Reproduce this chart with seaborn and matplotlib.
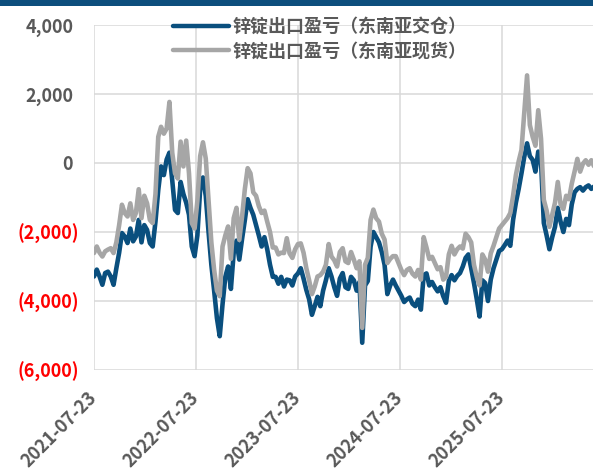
import pandas as pd
import matplotlib
matplotlib.use("Agg")
import matplotlib.pyplot as plt
from matplotlib.lines import Line2D
from matplotlib.patches import Rectangle
from matplotlib.transforms import ScaledTranslation
import seaborn as sns

# Zinc ingot export profit/loss, sampled every 10 days from 2021-07-23 (yuan/ton)
start_date = "2021-07-23"
step_days = 10

jiaocang = [
    -3290, -3090, -3290, -3530, -3190, -3150, -3290, -3530, -3050, -2600,
    -2030, -2130, -2320, -1900, -2270, -2130, -1650, -2300, -1800, -1940,
    -2320, -2420, -1700, -780, -100, -350, 100, 300, -500, -1360,
    -1450, -550, -900, -1150, -1500, -2420, -2700, -2100, -750, -420,
    -950, -2000, -2950, -3700, -4500, -5020, -4100, -3300, -3000, -3650,
    -2600, -2250, -2800, -2200, -1650, -1050, -1300, -1500, -1800, -2100,
    -2420, -2150, -2500, -2950, -3300, -3300, -3500, -3300, -3580, -3380,
    -3400, -3550, -3290, -3200, -3050, -3350, -3680, -3950, -4400, -4150,
    -3880, -4150, -3700, -3400, -3050, -3290, -3600, -3850, -3350, -3190,
    -3600, -3650, -3300, -3400, -3700, -3450, -5210, -3550, -3420, -2420,
    -2000, -2150, -2300, -2580, -2950, -3800, -3550, -3380, -3550, -3700,
    -3850, -4030, -3950, -3900, -4080, -4150, -3960, -4250, -3250, -3200,
    -3550, -3450, -3600, -3720, -3600, -3860, -4050, -3420, -3250, -3400,
    -3270, -3190, -3000, -2750, -2650, -3050, -3480, -3950, -4450, -3400,
    -3480, -4000, -3380, -3050, -2800, -2550, -2500, -2380, -2250, -2400,
    -1650, -1150, -750, -300, 180, 570, 200, 90, -250, 330,
    50, -1740, -2100, -2500, -2150, -1850, -1300, -1700, -2000, -1620,
    -1800, -1200, -850, -750, -700, -800, -700, -650, -750, -680,
]

xianhuo = [
    -2610, -2420, -2600, -2710, -2560, -2510, -2470, -2610, -2300, -1800,
    -1210, -1450, -1550, -1170, -1650, -1450, -760, -1600, -950, -1170,
    -1650, -1740, -900, 760, 1050, 850, 1000, 1770, 300, -300,
    -450, 620, -100, 650, -300, -1740, -1900, -1100, 200, 600,
    130, -1100, -2300, -3100, -3700, -3860, -2420, -2100, -1840, -2780,
    -1600, -1300, -2230, -1550, -750, -150, -300, -850, -950, -1250,
    -1450, -1380, -1700, -2000, -2450, -2450, -2650, -2600, -2610, -2180,
    -2620, -2750, -2500, -2350, -2330, -2600, -3050, -3400, -3800, -3580,
    -3290, -3250, -3150, -2950, -2350, -2710, -2820, -3000, -2580, -2470,
    -2850, -2900, -2580, -2800, -3050, -2850, -4780, -2950, -2750, -1650,
    -1350, -1600, -1700, -2050, -2220, -2900, -2780, -2700, -2700, -2900,
    -3100, -3250, -3100, -3050, -3210, -3290, -3100, -3380, -2150, -2450,
    -2780, -2720, -2900, -3080, -3020, -3380, -3300, -2650, -2400, -2650,
    -2500, -2420, -2480, -2050, -2150, -2300, -2950, -3300, -3550, -2650,
    -2800, -3150, -2620, -2400, -2150, -1900, -1800, -1700, -1600, -1450,
    -950, -350, 50, 380, 1480, 2540, 1100, 760, 500, 1530,
    700, -1070, -1380, -1850, -1500, -1150, -550, -1200, -1330, -950,
    -1050, -600, -250, 120, -250, -20, 80, -50, 80, -100,
]

series_names = ["锌锭出口盈亏（东南亚交仓）", "锌锭出口盈亏（东南亚现货）"]
series_colors = ["#0a4f7e", "#a6a6a6"]
y_ticks = [-6000, -4000, -2000, 0, 2000, 4000]
x_ticks = ["2021-07-23", "2022-07-23", "2023-07-23", "2024-07-23", "2025-07-23"]
x_end_days = 1786

dates = pd.date_range(start_date, periods=len(jiaocang), freq=f"{step_days}D")
df = pd.concat([
    pd.DataFrame({"date": dates, "value": jiaocang, "series": series_names[0]}),
    pd.DataFrame({"date": dates, "value": xianhuo, "series": series_names[1]}),
], ignore_index=True)

sns.set_theme(style="white")
plt.rcParams["font.family"] = ["Noto Sans CJK SC", "DejaVu Sans"]

W, H = 593, 475
fig = plt.figure(figsize=(W / 100, H / 100), dpi=100)
ax = fig.add_axes([94 / W, 1 - 370 / H, 1 - 94 / W, 345 / H])

palette = dict(zip(series_names, series_colors))
sns.lineplot(data=df, x="date", y="value", hue="series", hue_order=series_names,
             palette=palette, linewidth=3.3, ax=ax, legend=False)
for line in ax.get_lines():
    line.set_solid_joinstyle("round")
    line.set_solid_capstyle("round")

ax.set_xlim(pd.Timestamp(start_date), pd.Timestamp(start_date) + pd.Timedelta(days=x_end_days))
ax.set_ylim(y_ticks[0], y_ticks[-1])
ax.set_xlabel("")
ax.set_ylabel("")

grid_color = "#d9d9d9"
ax.grid(True, color=grid_color, linewidth=1.1)
ax.set_axisbelow(True)
for s in ax.spines.values():
    s.set_visible(False)

# y axis: accounting-style labels, negatives in red
ax.set_yticks(y_ticks)
ylabels = [f"{v:,}" if v >= 0 else f"({abs(v):,})" for v in y_ticks]
ax.set_yticklabels(ylabels)
ax.tick_params(axis="y", length=4.5, width=1.1, color=grid_color, pad=6)
shift = ScaledTranslation(-4.5 / 72, 0, fig.dpi_scale_trans)
for v, lab in zip(y_ticks, ax.get_yticklabels()):
    lab.set_fontweight("bold")
    lab.set_fontsize(13)
    if v < 0:
        lab.set_color("#ff0000")
    else:
        lab.set_color("#595959")
        lab.set_transform(lab.get_transform() + shift)

# x axis: yearly date labels rotated 45 degrees
ax.set_xticks(pd.to_datetime(x_ticks))
ax.set_xticklabels(x_ticks)
ax.tick_params(axis="x", length=0, pad=18)
for lab in ax.get_xticklabels():
    lab.set_rotation(45)
    lab.set_ha("right")
    lab.set_va("center")
    lab.set_rotation_mode("anchor")
    lab.set_fontweight("bold")
    lab.set_fontsize(13)
    lab.set_color("#595959")

handles = [Line2D([], [], color=c, linewidth=3.2) for c in series_colors]
leg = fig.legend(handles, series_names, loc="upper left",
                 bbox_to_anchor=(173 / W, 1 - 17 / H), frameon=False,
                 borderpad=0, borderaxespad=0, handlelength=3.1,
                 handletextpad=0.2, labelspacing=0.3,
                 prop={"weight": "bold", "size": 13})
for t in leg.get_texts():
    t.set_color("#595959")

# title bar along the top edge
fig.patches.append(Rectangle((0, 1 - 6 / H), 1, 6 / H, transform=fig.transFigure,
                             facecolor="#0d4e7d", edgecolor="none", zorder=10))

fig.savefig("out.png", dpi=100)
